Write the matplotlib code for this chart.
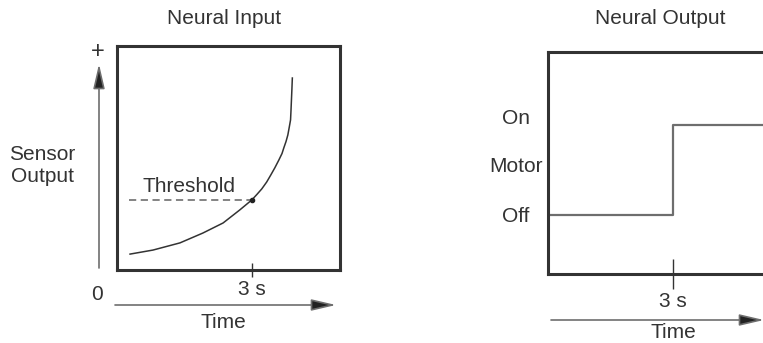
import numpy as np
import matplotlib
matplotlib.use("Agg")
import matplotlib.pyplot as plt

plt.rcParams['font.family'] = ['Liberation Sans', 'DejaVu Sans']

# sensor curve (time in s, sensor output in arbitrary units)
sensor_t = [0.29, 0.80, 1.40, 1.91, 2.36, 2.73, 3.00, 3.11, 3.22, 3.33, 3.42, 3.51, 3.60,
            3.67, 3.71, 3.76, 3.80, 3.83, 3.86, 3.87, 3.88, 3.89, 3.90]
sensor_y = [0.71, 0.89, 1.21, 1.65, 2.10, 2.68, 3.13, 3.37, 3.62, 3.93, 4.24, 4.56, 4.91,
            5.20, 5.45, 5.74, 6.03, 6.36, 6.70, 7.12, 7.59, 8.06, 8.57]
threshold = 3.13
threshold_start = 0.27
fire_time = 3.0

# motor state: off until 3 s, then on
motor_t = [0, 3, 6]
motor_state = [0, 1, 1]
motor_labels = ["On", "Motor", "Off"]

W, H = 763, 343
fig = plt.figure(figsize=(W / 100, H / 100), dpi=100)

def fx(x):
    return x / W

def fy(y):
    return 1 - y / H

def box(l, t, r, b):
    return [fx(l), fy(b), fx(r) - fx(l), fy(t) - fy(b)]

dark = '#333333'
gray = '#6e6e6e'
fs = 15

# ---------- left panel: neural input ----------
ax1 = fig.add_axes(box(117, 46, 340, 270))
ax1.plot(sensor_t, sensor_y, color=dark, lw=1.1, solid_joinstyle='round')
ax1.plot([threshold_start, fire_time], [threshold, threshold], color='#7a7a7a', lw=1.3, ls=(0, (4, 2.5)))
ax1.plot([fire_time], [threshold], 'o', color='#222222', ms=3)
ax1.set_xlim(0, 4.96)
ax1.set_ylim(0, 10)
ax1.set_xticks([fire_time])
ax1.set_xticklabels(["3 s"], fontsize=fs, color=dark)
ax1.tick_params(axis='x', direction='inout', length=10, width=1.0, color=dark, pad=2)
ax1.set_yticks([])
for s in ax1.spines.values():
    s.set_linewidth(2.2)
    s.set_color(dark)

# ---------- right panel: neural output ----------
ax2 = fig.add_axes(box(548, 52, 800, 274))
ax2.step(motor_t, motor_state, where='post', color=gray, lw=1.6)
ax2.set_xlim(0, (800 - 548) / (125 / 3))
ax2.set_ylim(-59 / 90, 163 / 90)
ax2.set_xticks([fire_time])
ax2.set_xticklabels(["3 s"], fontsize=fs, color=dark)
ax2.tick_params(axis='x', direction='inout', length=22, width=1.0, color=dark, pad=2)
ax2.set_yticks([])
for s in ax2.spines.values():
    s.set_linewidth(2.2)
    s.set_color(dark)

# ---------- texts ----------
fig.text(fx(224), fy(18), "Neural Input", ha='center', va='center', fontsize=fs, color=dark)
fig.text(fx(660), fy(18), "Neural Output", ha='center', va='center', fontsize=fs, color=dark)
fig.text(fx(42), fy(165), "Sensor\nOutput", ha='center', va='center', fontsize=fs, color=dark, linespacing=1.2)
fig.text(fx(98), fy(52), "+", ha='center', va='center', fontsize=17, color=dark)
fig.text(fx(97), fy(295), "0", ha='center', va='center', fontsize=fs, color=dark)
fig.text(fx(189), fy(187), "Threshold", ha='center', va='center', fontsize=fs, color=dark)
fig.text(fx(223), fy(323), "Time", ha='center', va='center', fontsize=fs, color=dark)
fig.text(fx(673), fy(333), "Time", ha='center', va='center', fontsize=fs, color=dark)
for lab, ypos in zip(motor_labels, [119, 166, 217]):
    fig.text(fx(516), fy(ypos), lab, ha='center', va='center', fontsize=fs, color=dark)

# ---------- arrows ----------
def arrow(x0, y0, x1, y1):
    fig.add_artist(matplotlib.patches.FancyArrowPatch(
        (fx(x0), fy(y0)), (fx(x1), fy(y1)), transform=fig.transFigure,
        arrowstyle='-|>,head_length=1.5,head_width=0.35', mutation_scale=10,
        ec=gray, fc='#222222', lw=1.2, shrinkA=0, shrinkB=0))

arrow(99, 268, 99, 64)
arrow(115, 305, 336, 305)
arrow(551, 320, 764, 320)

fig.savefig("out.png", dpi=100)
